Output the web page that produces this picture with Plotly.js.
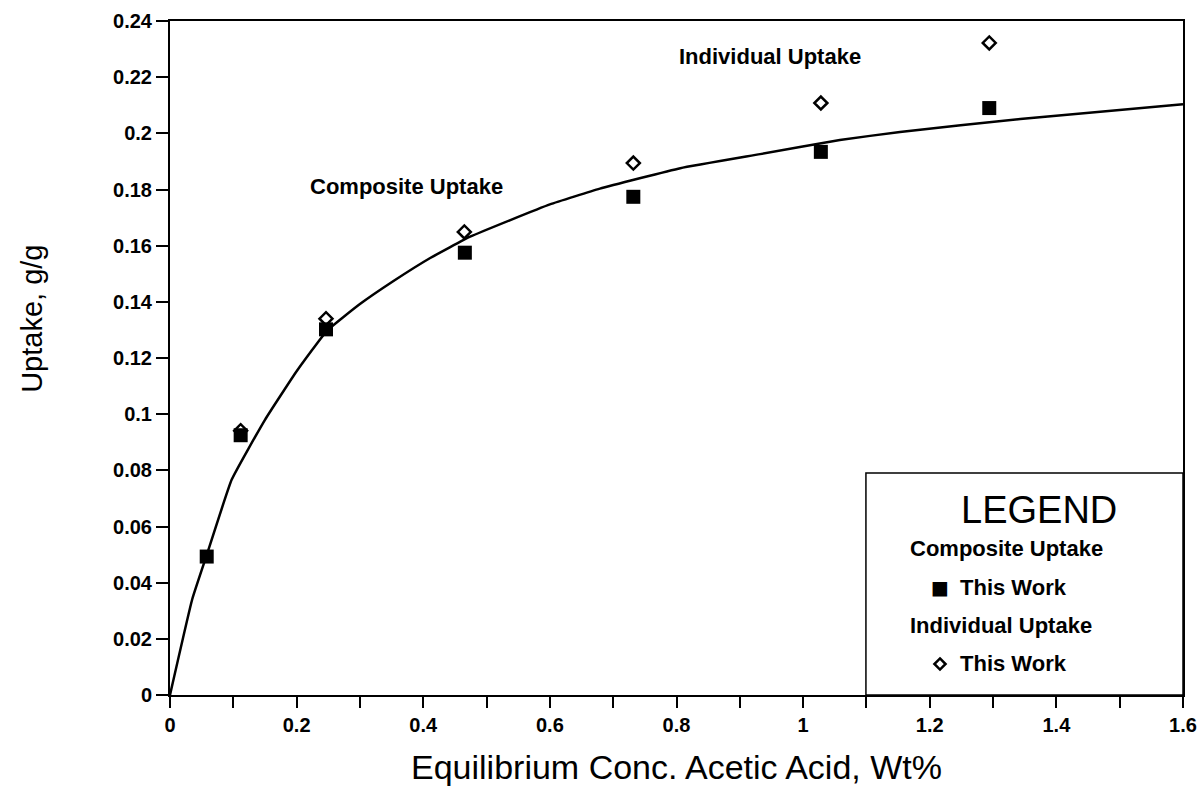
<!DOCTYPE html>
<html>
<head>
<meta charset="utf-8">
<script src="https://cdn.plot.ly/plotly-3.0.1.min.js"></script>
<style>
html, body { margin: 0; padding: 0; background: #fff; }
#chart { width: 1202px; height: 794px; }
</style>
</head>
<body>
<div id="chart"></div>
<script>
// Composite uptake (filled squares)
const compX = [0.058, 0.1116, 0.2464, 0.4657, 0.7318, 1.028, 1.294];
const compY = [0.0493, 0.0925, 0.1302, 0.1575, 0.1774, 0.1934, 0.209];
// Individual uptake (open diamonds)
const indX = [0.1116, 0.2464, 0.4649, 0.7318, 1.028, 1.294];
const indY = [0.0941, 0.134, 0.1649, 0.1894, 0.2108, 0.2322];
// Fitted curve
const fitX = [0, 0.035, 0.059, 0.0975, 0.15, 0.2, 0.2475, 0.30, 0.353, 0.411, 0.474, 0.60, 0.679, 0.806, 0.932, 1.058, 1.153, 1.343, 1.6];
const fitY = [0, 0.034, 0.0505, 0.0767, 0.098, 0.1153, 0.1296, 0.1392, 0.1474, 0.1556, 0.1632, 0.1747, 0.1803, 0.1876, 0.1926, 0.1976, 0.2005, 0.2051, 0.2104];

const xTitle = "Equilibrium Conc. Acetic Acid, Wt%";
const yTitle = "Uptake, g/g";
const legendTitle = "LEGEND";
const seriesNames = ["Composite Uptake", "Individual Uptake"];
const entryLabel = "This Work";

const FONT = "Liberation Sans, Arial, Helvetica, sans-serif";

const traces = [
  {
    x: fitX, y: fitY, type: "scatter", mode: "lines",
    line: { color: "#000", width: 2.5, shape: "spline", smoothing: 0.35 },
    hoverinfo: "skip", showlegend: false
  },
  {
    x: indX, y: indY, type: "scatter", mode: "markers", name: seriesNames[1],
    marker: { symbol: "diamond-open", size: 10, color: "#000", line: { color: "#000", width: 2.5 } },
    showlegend: false
  },
  {
    x: compX, y: compY, type: "scatter", mode: "markers", name: seriesNames[0],
    marker: { symbol: "square", size: 14, color: "#000" },
    showlegend: false
  }
];

const boldFont = (s) => ({ family: FONT, size: s, color: "#000", weight: "bold" });

const layout = {
  width: 1202, height: 794,
  paper_bgcolor: "#fff", plot_bgcolor: "#fff",
  margin: { l: 170, r: 19, t: 21, b: 99, pad: 0 },
  showlegend: false,
  font: { family: FONT, color: "#000" },
  xaxis: {
    range: [0, 1.6], dtick: 0.2, tick0: 0,
    ticks: "outside", ticklen: 11, tickwidth: 2, tickcolor: "#000",
    minor: { dtick: 0.1, ticks: "outside", ticklen: 11, tickwidth: 2, tickcolor: "#000", showgrid: false },
    showline: true, linecolor: "#000", linewidth: 2, mirror: true,
    showgrid: false, zeroline: false,
    tickfont: boldFont(20),
    title: { text: xTitle, font: { family: FONT, size: 34, color: "#000" }, standoff: 20 },
    automargin: false
  },
  yaxis: {
    range: [0, 0.24], dtick: 0.02, tick0: 0,
    ticks: "outside", ticklen: 12, tickwidth: 2, tickcolor: "#000",
    showline: true, linecolor: "#000", linewidth: 2, mirror: true,
    showgrid: false, zeroline: false,
    tickfont: boldFont(20),
    automargin: false
  },
  shapes: [
    { type: "rect", xref: "paper", yref: "paper", x0: 0.687, x1: 1, y0: 0, y1: 0.3294,
      line: { color: "#000", width: 1.5 }, fillcolor: "rgba(0,0,0,0)" },
    { type: "path", xref: "paper", yref: "paper",
      path: "M 0.7601,0.0542 L 0.7656,0.046 L 0.7601,0.0378 L 0.7546,0.046 Z",
      line: { color: "#000", width: 2.5 }, fillcolor: "rgba(0,0,0,0)" }
  ],
  annotations: [
    { x: -0.1363, y: 0.558, xref: "paper", yref: "paper", xanchor: "center", yanchor: "middle",
      text: yTitle, textangle: -90, showarrow: false, font: { family: FONT, size: 29, color: "#000" } },
    { x: 0.948, y: 0.2275, xref: "x", yref: "y", xanchor: "center", text: seriesNames[1], showarrow: false, font: boldFont(22) },
    { x: 0.374, y: 0.1812, xref: "x", yref: "y", xanchor: "center", text: seriesNames[0], showarrow: false, font: boldFont(22) },
    { x: 0.858, y: 0.2745, xref: "paper", yref: "paper", xanchor: "center", yanchor: "middle", text: legendTitle, showarrow: false,
      font: { family: FONT, size: 38, color: "#000" } },
    { x: 0.7285, y: 0.2181, xref: "paper", yref: "paper", xanchor: "left", yanchor: "middle", text: seriesNames[0], showarrow: false, font: boldFont(22) },
    { x: 0.760, y: 0.1602, xref: "paper", yref: "paper", xanchor: "center", yanchor: "middle", text: "■", showarrow: false,
      font: { family: "DejaVu Sans, sans-serif", size: 19, color: "#000" } },
    { x: 0.778, y: 0.1602, xref: "paper", yref: "paper", xanchor: "left", yanchor: "middle", text: entryLabel, showarrow: false, font: boldFont(22) },
    { x: 0.7285, y: 0.1024, xref: "paper", yref: "paper", xanchor: "left", yanchor: "middle", text: seriesNames[1], showarrow: false, font: boldFont(22) },
    { x: 0.778, y: 0.046, xref: "paper", yref: "paper", xanchor: "left", yanchor: "middle", text: entryLabel, showarrow: false, font: boldFont(22) }
  ]
};

Plotly.newPlot("chart", traces, layout, { displayModeBar: false, staticPlot: true });
</script>
</body>
</html>
